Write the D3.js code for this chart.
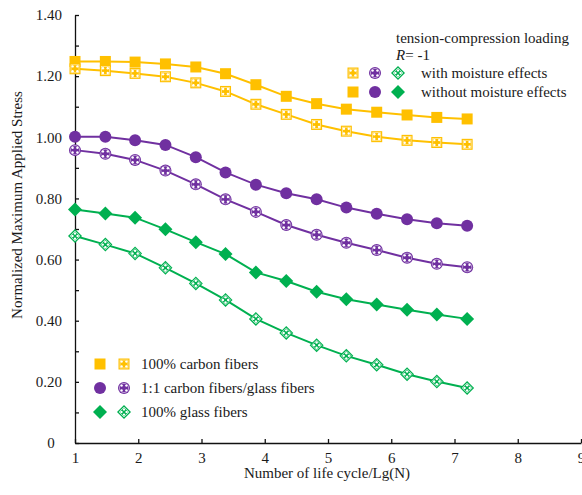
<!DOCTYPE html>
<html><head><meta charset="utf-8">
<script src="https://cdn.jsdelivr.net/npm/d3@7"></script>
<style>body{margin:0;background:#fff}svg{display:block}</style>
</head><body>
<svg id="c" width="582" height="495"></svg>
<script>
const lifeCycle = [1.00, 1.48, 1.95, 2.43, 2.91, 3.38, 3.86, 4.34, 4.82, 5.29, 5.77, 6.25, 6.72, 7.20];
const carbonDry   = [1.248, 1.248, 1.246, 1.240, 1.230, 1.208, 1.172, 1.134, 1.110, 1.092, 1.082, 1.073, 1.065, 1.060];
const carbonWet   = [1.224, 1.218, 1.209, 1.198, 1.178, 1.150, 1.108, 1.075, 1.042, 1.020, 1.002, 0.990, 0.983, 0.977];
const hybridDry   = [1.002, 1.002, 0.990, 0.975, 0.935, 0.885, 0.845, 0.817, 0.797, 0.770, 0.750, 0.732, 0.719, 0.711];
const hybridWet   = [0.958, 0.946, 0.926, 0.891, 0.846, 0.797, 0.756, 0.713, 0.681, 0.655, 0.631, 0.606, 0.586, 0.575];
const glassDry    = [0.764, 0.751, 0.737, 0.699, 0.657, 0.618, 0.558, 0.530, 0.495, 0.470, 0.453, 0.436, 0.420, 0.406];
const glassWet    = [0.677, 0.649, 0.620, 0.573, 0.522, 0.468, 0.406, 0.360, 0.320, 0.285, 0.256, 0.225, 0.201, 0.180];
const xTicks = [1, 2, 3, 4, 5, 6, 7, 8, 9];
const yTicks = [0, 0.1, 0.2, 0.3, 0.4, 0.5, 0.6, 0.7, 0.8, 0.9, 1.0, 1.1, 1.2, 1.3, 1.4];
const yLabels = [0, 0.2, 0.4, 0.6, 0.8, 1.0, 1.2, 1.4];

const FONT = "'Liberation Serif', 'DejaVu Serif', 'Times New Roman', serif";
const YEL = "#FFC000", PUR = "#7030A0", GRN = "#00B050";
const series = [
  {v: carbonDry, c: YEL, shape: "square", hollow: false},
  {v: carbonWet, c: YEL, shape: "square", hollow: true},
  {v: hybridDry, c: PUR, shape: "circle", hollow: false},
  {v: hybridWet, c: PUR, shape: "circle", hollow: true},
  {v: glassDry,  c: GRN, shape: "diamond", hollow: false},
  {v: glassWet,  c: GRN, shape: "diamond", hollow: true}
];

const svg = d3.select("#c");
const x = d3.scaleLinear().domain([1, 9]).range([75, 581]);
const y = d3.scaleLinear().domain([0, 1.4]).range([443, 15]);

// axes
const yAx = svg.append("g").attr("transform", "translate(75,0)")
  .call(d3.axisLeft(y).tickValues(yTicks).tickSizeInner(-4).tickSizeOuter(0).tickPadding(13)
    .tickFormat(d => yLabels.some(l => Math.abs(l - d) < 1e-9) ? (d === 0 ? "0" : d.toFixed(2)) : ""));
yAx.selectAll(".tick").filter(d => d === 0).select("text").attr("text-anchor", "middle").attr("x", -24);
const xAx = svg.append("g").attr("transform", "translate(0,443)")
  .call(d3.axisBottom(x).tickValues(xTicks).tickSizeInner(-4).tickSizeOuter(0).tickPadding(9).tickFormat(d3.format("d")));
svg.selectAll(".domain, .tick line").attr("stroke", "#111").attr("stroke-width", 1.3);

svg.append("text").attr("transform", "translate(22,205) rotate(-90)").attr("text-anchor", "middle")
  .text("Normalized Maximum Applied Stress");
svg.append("text").attr("x", 327).attr("y", 478).attr("text-anchor", "middle")
  .text("Number of life cycle/Lg(N)");

// marker drawing
function marker(g, shape, hollow, c) {
  if (shape === "square") g.append("rect").attr("x", -5.5).attr("y", -5.5).attr("width", 11).attr("height", 11).attr("fill", c);
  else if (shape === "circle") g.append("circle").attr("r", 6).attr("fill", c);
  else g.append("path").attr("d", "M0,-7L7,0L0,7L-7,0Z").attr("fill", c);
  if (hollow) {
    let pts;
    if (shape === "diamond") pts = [[0,-2.6],[2.6,0],[0,2.6],[-2.6,0]];
    else pts = [[-2.4,-2.4],[2.4,-2.4],[2.4,2.4],[-2.4,2.4]];
    pts.forEach(p => g.append("circle").attr("cx", p[0]).attr("cy", p[1]).attr("r", 1.2).attr("fill", "#fff"));
    if (shape === "circle") g.append("circle").attr("r", 4.6).attr("fill", "none").attr("stroke", "#fff").attr("stroke-width", 0.7).attr("opacity", 0.7);
    if (shape === "square") g.append("rect").attr("x", -4).attr("y", -4).attr("width", 8).attr("height", 8).attr("fill", "none").attr("stroke", "#fff").attr("stroke-width", 0.7).attr("opacity", 0.7);
    if (shape === "diamond") g.append("path").attr("d", "M0,-5L5,0L0,5L-5,0Z").attr("fill", "none").attr("stroke", "#fff").attr("stroke-width", 0.8).attr("opacity", 0.8);
  }
}

const line = d3.line().x(d => x(d[0])).y(d => y(d[1]));
series.forEach(s => {
  const data = lifeCycle.map((lc, i) => [lc, s.v[i]]);
  svg.append("path").datum(data).attr("d", line).attr("fill", "none").attr("stroke", s.c).attr("stroke-width", 2);
  data.forEach(d => {
    const g = svg.append("g").attr("transform", `translate(${x(d[0])},${y(d[1])})`);
    marker(g, s.shape, s.hollow, s.c);
  });
});

// legend top-right
svg.append("text").attr("x", 396).attr("y", 43).text("tension-compression loading");
const rt = svg.append("text").attr("x", 396).attr("y", 60);
rt.append("tspan").attr("font-style", "italic").text("R");
rt.append("tspan").text("= -1");
[[true, 73, "with moisture effects"], [false, 92, "without moisture effects"]].forEach(([h, yy, t]) => {
  marker(svg.append("g").attr("transform", `translate(353,${yy})`), "square", h, YEL);
  marker(svg.append("g").attr("transform", `translate(375,${yy})`), "circle", h, PUR);
  marker(svg.append("g").attr("transform", `translate(398,${yy})`), "diamond", h, GRN);
  svg.append("text").attr("x", 421).attr("y", yy + 5).text(t);
});

// legend bottom-left
[["square", YEL, 364, "100% carbon fibers"], ["circle", PUR, 388, "1:1 carbon fibers/glass fibers"], ["diamond", GRN, 412, "100% glass fibers"]].forEach(([sh, c, yy, t]) => {
  marker(svg.append("g").attr("transform", `translate(100,${yy})`), sh, false, c);
  marker(svg.append("g").attr("transform", `translate(124,${yy})`), sh, true, c);
  svg.append("text").attr("x", 141).attr("y", yy + 5).text(t);
});

svg.selectAll("text").attr("font-family", null).style("font-family", FONT).style("font-size", "15px").style("fill", "#1a1a1a");
svg.selectAll("g").attr("font-family", FONT).attr("font-size", 15);
</script>
</body></html>
